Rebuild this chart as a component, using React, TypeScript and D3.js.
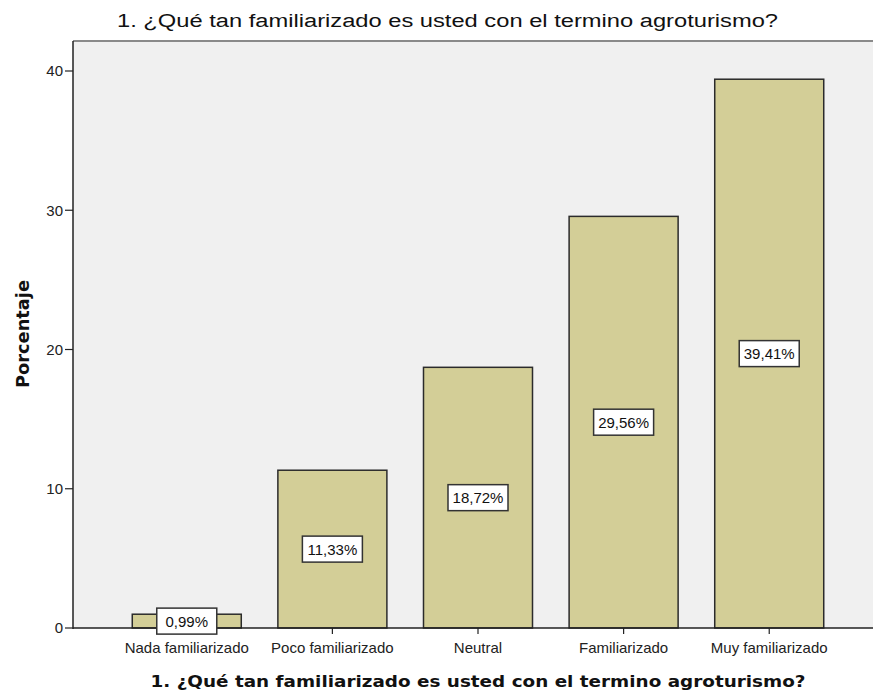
import React from "react";
import * as d3 from "d3";

const categories = [
  "Nada familiarizado",
  "Poco familiarizado",
  "Neutral",
  "Familiarizado",
  "Muy familiarizado"
];
const percents = [0.99, 11.33, 18.72, 29.56, 39.41];
const yTicks = [0, 10, 20, 30, 40];
const title = "1. ¿Qué tan familiarizado es usted con el termino agroturismo?";
const yTitle = "Porcentaje";

const W = 873;
const H = 693;
const margin = { top: 41, right: -10, bottom: 65, left: 73 };
const plotBottom = H - margin.bottom; // 628

const App = () => {
  const x = d3
    .scaleBand<string>()
    .domain(categories)
    .range([margin.left, W - margin.right])
    .paddingInner(0.2514)
    .paddingOuter(0.407);

  const y = d3
    .scaleLinear()
    .domain([0, 40])
    .range([plotBottom, 71]);

  const fmt = (v: number) => v.toFixed(2).replace(".", ",") + "%";

  return (
    <svg
      width={W}
      height={H}
      style={{ display: "block", position: "absolute", left: 0, top: 0 }}
    >
      <rect x={0} y={0} width={W} height={H} fill="#ffffff" />
      {/* plot background */}
      <rect
        x={margin.left}
        y={margin.top}
        width={W - margin.left + 20}
        height={plotBottom - margin.top}
        fill="#f0f0f0"
      />
      <line x1={margin.left} x2={W} y1={margin.top} y2={margin.top} stroke="#8a8a8a" strokeWidth={2} />

      {/* bars */}
      {categories.map((c, i) => (
        <rect
          key={c}
          x={x(c)}
          y={y(percents[i])}
          width={x.bandwidth()}
          height={plotBottom - y(percents[i])}
          fill="#d3ce97"
          stroke="#2b2b2b"
          strokeWidth={1.5}
        />
      ))}

      {/* axes */}
      <line x1={margin.left} x2={margin.left} y1={margin.top} y2={plotBottom + 1} stroke="#222" strokeWidth={1.5} />
      <line x1={margin.left} x2={W} y1={plotBottom} y2={plotBottom} stroke="#222" strokeWidth={1.5} />

      {yTicks.map(t => (
        <g key={t}>
          <line x1={margin.left - 8} x2={margin.left} y1={y(t)} y2={y(t)} stroke="#222" strokeWidth={1.2} />
          <text
            x={margin.left - 10}
            y={y(t)}
            dy="0.36em"
            textAnchor="end"
            fontFamily="Liberation Sans, Arial, sans-serif"
            fontSize={15}
            fill="#222"
          >
            {t}
          </text>
        </g>
      ))}

      {categories.map(c => {
        const cx = (x(c) as number) + x.bandwidth() / 2;
        return (
          <g key={c}>
            <line x1={cx} x2={cx} y1={plotBottom} y2={plotBottom + 6} stroke="#222" strokeWidth={1.2} />
            <text
              x={cx}
              y={653}
              textAnchor="middle"
              fontFamily="Liberation Sans, Arial, sans-serif"
              fontSize={15}
              fill="#222"
            >
              {c}
            </text>
          </g>
        );
      })}

      {/* value labels */}
      {categories.map((c, i) => {
        const cx = (x(c) as number) + x.bandwidth() / 2;
        const cy = (y(percents[i]) + plotBottom) / 2;
        return (
          <g key={c}>
            <rect
              x={cx - 30}
              y={cy - 13}
              width={60}
              height={26}
              fill="#ffffff"
              stroke="#333"
              strokeWidth={1.5}
            />
            <text
              x={cx}
              y={cy}
              dy="0.36em"
              textAnchor="middle"
              fontFamily="Liberation Sans, Arial, sans-serif"
              fontSize={15}
              fill="#111"
            >
              {fmt(percents[i])}
            </text>
          </g>
        );
      })}

      {/* titles */}
      <text
        x={117}
        y={27}
        fontFamily="Liberation Sans, Arial, sans-serif"
        fontSize={18}
        textLength={661}
        lengthAdjust="spacingAndGlyphs"
        fill="#111"
      >
        {title}
      </text>
      <text
        x={478}
        y={687}
        textAnchor="middle"
        fontFamily="DejaVu Sans, Verdana, sans-serif"
        fontWeight="bold"
        fontSize={16.5}
        textLength={655}
        lengthAdjust="spacingAndGlyphs"
        fill="#111"
      >
        {title}
      </text>
      <text
        transform={`translate(29, ${334}) rotate(-90)`}
        textAnchor="middle"
        fontFamily="DejaVu Sans, Verdana, sans-serif"
        fontWeight="bold"
        fontSize={17}
        textLength={108}
        lengthAdjust="spacingAndGlyphs"
        fill="#111"
      >
        {yTitle}
      </text>
    </svg>
  );
};

export default App;
